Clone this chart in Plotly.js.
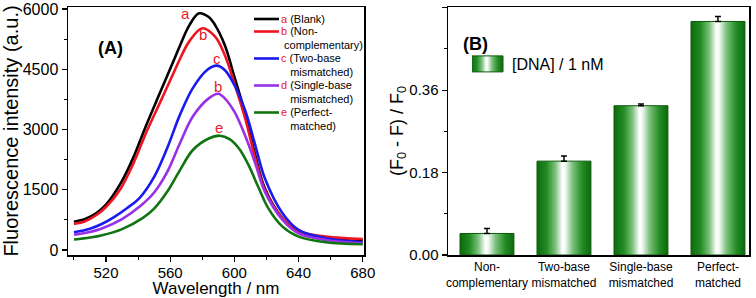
<!DOCTYPE html>
<html>
<head>
<meta charset="utf-8">
<script src="https://cdn.plot.ly/plotly-3.0.1.min.js"></script>
<style>
html,body{margin:0;padding:0;background:#fff;}
#chart{width:756px;height:298px;}
</style>
</head>
<body>
<div id="chart"></div>
<script>
// ---------- Panel A data (wavelength in nm, intensity in a.u.) ----------
const wlBlank      = [500,507,514,520,529,537,545,554,562,566,572,578,584,588,594,600,607,613,619,630,640,657,680];
const blank        = [705,772,920,1130,1650,2300,3100,3950,4700,5080,5600,5892,5800,5600,5103,4314,3361,2365,1535,789,456,290,250];
const wlNonComp    = [500,507,514,520,529,537,545,554,562,566,572,580,588,594,600,607,613,619,630,640,657,680];
const nonComp      = [650,715,870,1070,1520,2150,2920,3700,4400,4750,5200,5519,5311,4854,4150,3236,2282,1494,789,473,332,274];
const wlTwoBase    = [500,510,517,525,533,541,550,558,566,574,583,589,594,600,607,613,619,630,640,657,680];
const twoBase      = [440,530,640,820,1040,1300,1820,2525,3358,4025,4483,4590,4481,4108,3443,2614,1784,913,498,290,191];
const wlSingleBase = [500,510,517,530,541,550,558,566,574,584,590,594,600,607,613,619,630,640,657,680];
const singleBase   = [380,450,530,770,1080,1430,1930,2650,3317,3775,3890,3776,3443,2821,2158,1452,747,415,249,166];
const wlPerfect    = [500,510,517,530,543,550,558,566,574,584,591,597,603,609,615,621,630,640,657,680];
const perfect      = [260,310,360,520,800,1030,1442,1983,2483,2775,2846,2760,2520,2100,1560,1050,581,332,191,141];

const seriesNamesA = [
  ['a', '(Blank)'],
  ['b', '(Non-<br>\u00a0complementary)'],
  ['c', '(Two-base<br>\u00a0\u00a0\u00a0mismatched)'],
  ['d', '(Single-base<br>\u00a0\u00a0\u00a0mismatched)'],
  ['e', '(Perfect-<br>\u00a0\u00a0\u00a0matched)']
];
const curveLabels = ['a','b','c','b','e'];
const curveLabelX = [569.3, 580.6, 589.1, 590.1, 590.7];
const curveLabelY = [5892, 5370, 4770, 4065, 3040];
const yTicksA = [0, 1500, 3000, 4500, 6000];
const xTicksA = [520, 560, 600, 640, 680];

// ---------- Panel B data ----------
const categoriesB = ['Non-<br>complementary','Two-base<br>mismatched','Single-base<br>mismatched','Perfect-<br>matched'];
const quenchValues = [0.047, 0.205, 0.326, 0.510];
const quenchErrors = [0.011, 0.011, 0.004, 0.011];
const yTicksB = [0, 0.18, 0.36, 0.54];
const yTickTextB = ['0.00', '0.18', '0.36', '0.54'];

const W = 756;
const colorsA = ['#000000','#f01420','#1a1af0','#9a30e6','#107510'];
const xsA = [wlBlank, wlNonComp, wlTwoBase, wlSingleBase, wlPerfect];
const seriesA = [blank, nonComp, twoBase, singleBase, perfect];
const redLbl = '#e8202a';

const traces = seriesA.map((ys, i) => ({
  type: 'scatter', mode: 'lines',
  x: xsA[i], y: ys,
  xaxis: 'x', yaxis: 'y',
  line: {color: colorsA[i], width: 2.6, shape: 'spline', smoothing: 1},
  name: '<span style="color:' + redLbl + '">' + seriesNamesA[i][0] + '</span> ' + seriesNamesA[i][1],
  legend: 'legend'
}));

traces.push({
  type: 'bar',
  x: categoriesB, y: quenchValues,
  xaxis: 'x2', yaxis: 'y2',
  width: 0.7,
  marker: {color: '#2e8b2e', line: {color: '#0b5a0b', width: 1}},
  error_y: {type: 'data', array: quenchErrors, symmetric: false,
            arrayminus: quenchErrors.map(() => 0), color: '#000', thickness: 1.5, width: 3},
  name: '[DNA] / 1 nM',
  legend: 'legend2'
});

const fontFam = 'Arial, "Liberation Sans", sans-serif';
const axisCommon = {
  showline: true, linecolor: '#000', linewidth: 1.5, mirror: true,
  showgrid: false, zeroline: false,
  ticks: 'outside', ticklen: 5, tickwidth: 1.2, tickcolor: '#000',
  tickfont: {family: fontFam, size: 15, color: '#000'}
};

const annotations = curveLabels.map((t, i) => ({
  x: curveLabelX[i], y: curveLabelY[i], xref: 'x', yref: 'y',
  text: t, showarrow: false,
  font: {family: fontFam, size: 15, color: redLbl}
}));
annotations.push({
  x: 95.5 / W, y: 1 - (36 - 7) / 248, xref: 'paper', yref: 'paper',
  text: '<b>(A)</b>', showarrow: false,
  font: {family: fontFam, size: 18, color: '#000'}
});
annotations.push({
  x: 475.5 / W, y: 1 - (31.7 - 7) / 248, xref: 'paper', yref: 'paper',
  text: '<b>(B)</b>', showarrow: false,
  font: {family: fontFam, size: 18, color: '#000'}
});

const layout = {
  width: 756, height: 298,
  margin: {l: 0, r: 0, t: 7, b: 43},
  paper_bgcolor: '#fff', plot_bgcolor: '#fff',
  font: {family: fontFam, color: '#000'},
  xaxis: Object.assign({}, axisCommon, {
    domain: [68 / W, 364 / W], anchor: 'y',
    range: [496.3, 680.8], tickmode: 'array', tickvals: xTicksA,
    ticklabelstandoff: -2,
    minor: {dtick: 20, tick0: 500, ticks: 'outside', ticklen: 3, tickcolor: '#000', tickwidth: 1},
    title: {text: 'Wavelength / nm', font: {family: fontFam, size: 17, color: '#000'}, standoff: 4}
  }),
  yaxis: Object.assign({}, axisCommon, {
    domain: [0, 1], anchor: 'x',
    range: [-125, 6050], tickmode: 'array', tickvals: yTicksA,
    tickfont: {family: fontFam, size: 16, color: '#000'},
    minor: {dtick: 750, tick0: 0, ticks: 'outside', ticklen: 3, tickcolor: '#000', tickwidth: 1},
    title: {text: 'Fluorescence intensity (a.u.)', font: {family: fontFam, size: 20, color: '#000'}, standoff: 6}
  }),
  xaxis2: Object.assign({}, axisCommon, {
    domain: [448 / W, 749 / W], anchor: 'y2',
    type: 'category', range: [-0.506, 3.403],
    ticks: '', ticklen: 0, tickangle: 0,
    tickfont: {family: fontFam, size: 12, color: '#000'}
  }),
  yaxis2: Object.assign({}, axisCommon, {
    domain: [0, 1], anchor: 'x2',
    range: [0, 0.5416], tickmode: 'array', tickvals: yTicksB, ticktext: yTickTextB,
    minor: {dtick: 0.09, tick0: 0, ticks: 'outside', ticklen: 3, tickcolor: '#000', tickwidth: 1},
    title: {text: '(F<sub>0</sub> - F) / F<sub>0</sub>', font: {family: fontFam, size: 18, color: '#000'}, standoff: 0}
  }),
  legend: {
    x: 238 / W, xanchor: 'left', y: 1, yanchor: 'top',
    bgcolor: 'rgba(0,0,0,0)', borderwidth: 0,
    font: {family: fontFam, size: 11, color: '#000'},
    tracegroupgap: 0, itemwidth: 30
  },
  legend2: {
    x: 472 / W, xanchor: 'left', y: 1 - (47 - 7) / 248, yanchor: 'top',
    bgcolor: 'rgba(0,0,0,0)', borderwidth: 0,
    font: {family: fontFam, size: 16, color: '#000'}
  },
  showlegend: true,
  annotations: annotations
};

// legend A target placement (page px): first-line centres, text left, line start
const legendLineCentres = [19, 31.5, 58.5, 85.5, 112.5];
const legendTextLeft = 281;
const legendLineStart = 254;

Plotly.newPlot('chart', traces, layout, {staticPlot: true, displayModeBar: false}).then(gd => {
  const NS = 'http://www.w3.org/2000/svg';
  const svg = gd.querySelector('svg.main-svg');
  let defs = svg.querySelector('defs');
  if (!defs) { defs = document.createElementNS(NS, 'defs'); svg.insertBefore(defs, svg.firstChild); }
  const grad = document.createElementNS(NS, 'linearGradient');
  grad.setAttribute('id', 'greenGrad');
  grad.setAttribute('x1', '0'); grad.setAttribute('x2', '1');
  grad.setAttribute('y1', '0'); grad.setAttribute('y2', '0');
  const stops = [[0,'#0c6a0c'],[0.18,'#238c23'],[0.34,'#7cc07c'],[0.47,'#ffffff'],[0.52,'#f4fbf4'],[0.66,'#7cc07c'],[0.84,'#238c23'],[1,'#0c6a0c']];
  stops.forEach(([o, c]) => {
    const s = document.createElementNS(NS, 'stop');
    s.setAttribute('offset', o); s.setAttribute('stop-color', c);
    grad.appendChild(s);
  });
  defs.appendChild(grad);
  gd.querySelectorAll('.barlayer .point path').forEach(p => { p.style.fill = 'url(#greenGrad)'; });
  const lg2 = gd.querySelector('g.legend2');
  if (lg2) {
    lg2.querySelectorAll('.legendpoints path').forEach(p => {
      p.setAttribute('d', 'M16,8H-16V-8H16Z');
      p.setAttribute('transform', 'translate(15,0)');
      p.style.fill = 'url(#greenGrad)';
    });
  }
  const lg1 = gd.querySelector('g.legend');
  if (lg1) {
    const svgRect = svg.getBoundingClientRect();
    const items = lg1.querySelectorAll('g.traces');
    items.forEach((g, i) => {
      const m = /translate\(([-\d.]+)[ ,]+([-\d.]+)\)/.exec(g.getAttribute('transform') || '');
      if (!m) return;
      const tx = parseFloat(m[1]), ty = parseFloat(m[2]);
      const txt = g.querySelector('text.legendtext');
      if (!txt) return;
      const r = txt.getBoundingClientRect();
      const lineH = 11 * 1.15;
      const curCentre = r.top - svgRect.top + lineH / 2;
      const dy = legendLineCentres[i] - curCentre;
      const dx = legendTextLeft - (r.left - svgRect.left);
      g.setAttribute('transform', 'translate(' + (tx + dx) + ',' + (ty + dy) + ')');
      const ctm = g.getCTM();
      const ox = ctm.e, oy = ctm.f;
      g.querySelectorAll('.legendlines path').forEach(p => {
        p.setAttribute('d', 'M' + (legendLineStart - ox) + ',' + (legendLineCentres[i] - oy) + 'h25');
      });
    });
  }
});
</script>
</body>
</html>
